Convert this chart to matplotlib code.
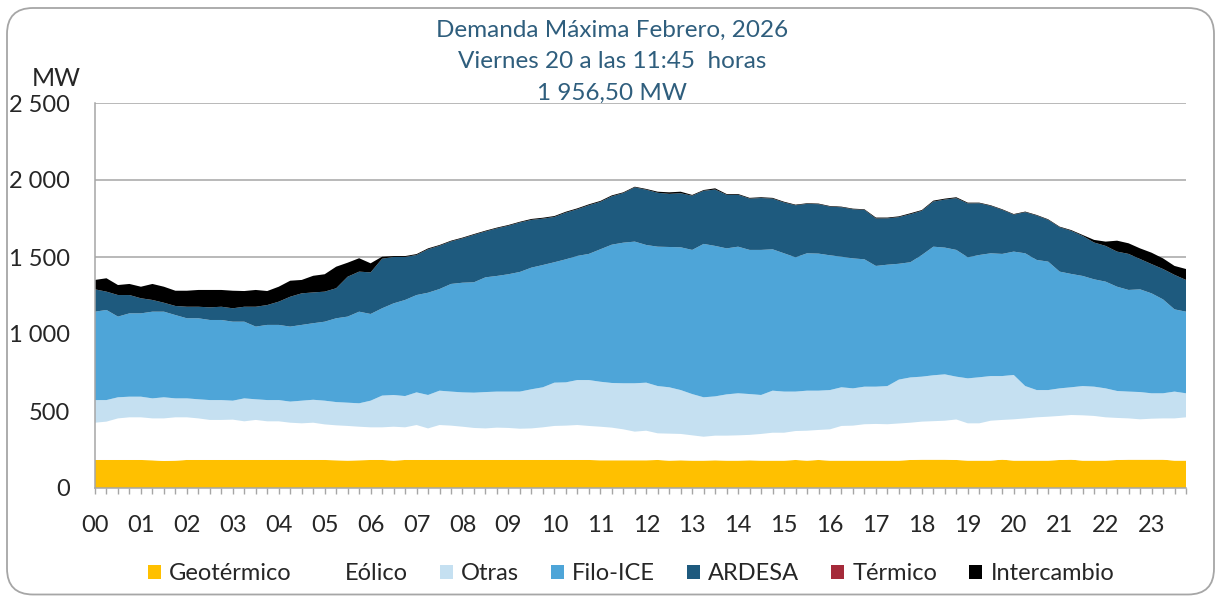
import matplotlib
matplotlib.use("Agg")
import matplotlib.pyplot as plt
from matplotlib.patches import Patch, FancyBboxPatch
from matplotlib.transforms import IdentityTransform
import numpy as np

# cuartos de hora del dia (96 puntos), MW por fuente
geotermico = [182, 182, 182, 182, 182, 180, 176, 178, 182, 182, 182, 182, 182, 182, 182, 182,
              182, 182, 182, 182, 182, 180, 178, 180, 182, 182, 178, 182, 182, 182, 182, 182,
              182, 182, 182, 182, 182, 182, 182, 182, 182, 182, 182, 182, 180, 180, 180, 180,
              180, 182, 178, 180, 178, 178, 180, 178, 178, 180, 178, 178, 178, 182, 178, 182,
              178, 178, 178, 178, 178, 178, 178, 182, 184, 184, 184, 182, 178, 178, 178, 184,
              178, 178, 178, 178, 182, 184, 178, 178, 178, 182, 184, 184, 184, 184, 178, 178]
eolico = [242, 249, 270, 277, 277, 272, 276, 281, 277, 270, 260, 260, 262, 251, 260, 251,
          251, 242, 238, 242, 231, 227, 225, 218, 212, 212, 220, 212, 227, 205, 227, 223,
          216, 208, 205, 210, 208, 203, 205, 212, 221, 223, 227, 221, 218, 212, 201, 186,
          192, 173, 175, 171, 164, 155, 160, 162, 164, 165, 173, 181, 181, 188, 194, 195,
          203, 225, 227, 236, 238, 236, 241, 242, 247, 250, 253, 263, 242, 242, 259, 258,
          268, 274, 281, 285, 286, 290, 294, 290, 281, 273, 268, 262, 266, 268, 274, 281]
otras = [147, 140, 137, 134, 134, 130, 137, 123, 123, 124, 129, 129, 123, 149, 134, 138,
         138, 137, 147, 149, 154, 151, 151, 152, 173, 206, 206, 203, 212, 217, 223, 221,
         223, 229, 236, 234, 236, 241, 254, 260, 281, 281, 292, 298, 292, 290, 299, 314,
         312, 307, 301, 285, 268, 256, 255, 268, 273, 265, 253, 273, 267, 256, 260, 255,
         255, 251, 242, 244, 242, 248, 285, 294, 292, 298, 301, 278, 292, 299, 290, 285,
         288, 210, 177, 173, 179, 180, 190, 190, 188, 175, 174, 177, 165, 163, 174, 156]
filo_ice = [574, 585, 524, 541, 541, 563, 556, 541, 520, 526, 520, 520, 513, 498, 472, 488,
            488, 487, 492, 497, 513, 544, 559, 595, 563, 567, 595, 624, 632, 664, 660, 699,
            712, 717, 745, 751, 762, 777, 790, 794, 782, 799, 806, 819, 860, 898, 913, 920,
            894, 905, 911, 927, 936, 996, 977, 948, 952, 936, 942, 918, 898, 872, 892, 890,
            875, 848, 844, 827, 784, 788, 752, 748, 790, 835, 823, 823, 786, 794, 797, 793,
            801, 862, 845, 834, 758, 736, 715, 697, 693, 677, 660, 667, 649, 610, 534, 530]
ardesa = [145, 119, 140, 119, 98, 76, 58, 59, 75, 75, 82, 86, 87, 97, 129, 129,
          151, 194, 205, 200, 195, 195, 259, 260, 270, 322, 301, 279, 260, 282, 281, 276,
          288, 308, 298, 309, 315, 321, 310, 301, 294, 303, 303, 316, 308, 314, 322, 352,
          359, 350, 345, 351, 352, 345, 366, 348, 337, 333, 337, 329, 330, 338, 321, 321,
          316, 321, 319, 321, 308, 301, 303, 312, 287, 293, 312, 336, 350, 336, 308, 286,
          240, 267, 288, 271, 288, 280, 260, 239, 232, 228, 234, 197, 190, 197, 224, 206]
termico = [0] * 96
intercambio = [61, 87, 65, 72, 75, 104, 104, 99, 104, 109, 113, 109, 114, 102, 109, 91,
               97, 104, 87, 108, 113, 140, 91, 87, 59, 13, 6, 6, 6, 6, 5, 5,
               5, 5, 5, 5, 5, 5, 6, 6, 6, 6, 6, 6, 6, 6, 5, 4.5,
               5, 7, 10, 10, 5, 5, 8, 5, 5, 5, 5, 5, 5, 4, 4, 4,
               4, 4, 4, 4, 6, 5, 5, 6, 5, 6, 6, 6, 5, 4, 4, 4,
               4, 4, 4, 4, 4, 5, 6, 17, 28, 71, 69, 69, 74, 69, 58, 71]

series = ['Geotérmico', 'Eólico', 'Otras', 'Filo-ICE', 'ARDESA', 'Térmico', 'Intercambio']
colores = ['#FFC000', '#FFFFFF', '#C5E0F1', '#4EA5D8', '#1E5A7E', '#A52A3A', '#000000']
horas = ['%02d' % h for h in range(24)]

plt.rcParams['font.family'] = ['Lato', 'DejaVu Sans']
texto = '#262626'

W, H = 1217, 596
fig = plt.figure(figsize=(W / 100, H / 100), dpi=100)

# marco redondeado
marco = FancyBboxPatch((7, 1.5), 1207, 586.5, boxstyle='round,pad=0,rounding_size=26',
                       transform=IdentityTransform(), facecolor='none',
                       edgecolor='#A6A6A6', linewidth=1.3)
fig.patches.append(marco)

ax = fig.add_axes([95 / W, 1 - 488 / H, (1186 - 95) / W, (488 - 103) / H])
x = np.arange(96)
ax.stackplot(x, geotermico, eolico, otras, filo_ice, ardesa, termico, intercambio,
             colors=colores, linewidth=0, zorder=2)

ax.set_xlim(0, 95)
ax.set_ylim(0, 2500)
ax.set_yticks(range(0, 2501, 500))
ax.set_yticklabels(['{:,}'.format(v).replace(',', ' ') for v in range(0, 2501, 500)])
ax.grid(axis='y', color='#A6A6A6', linewidth=1.1, zorder=0)
ax.set_axisbelow(True)

ax.set_xticks(range(0, 96, 4))
ax.set_xticklabels(horas)
ax.set_xticks(range(96), minor=True)

for s in ['top', 'right']:
    ax.spines[s].set_visible(False)
for s in ['left', 'bottom']:
    ax.spines[s].set_color('#A6A6A6')
    ax.spines[s].set_linewidth(1.1)
    ax.spines[s].set_zorder(3)

ax.tick_params(axis='y', length=0, pad=18, labelsize=17, labelcolor=texto)
ax.tick_params(axis='x', which='both', direction='out', length=4.5, color='#A6A6A6',
               width=1, labelsize=17, labelcolor=texto, pad=15)

fig.text(32 / W, 1 - 78 / H, 'MW', fontsize=18, color=texto, ha='left', va='center')

titulo = '#2F5E7D'
fig.text(612 / W, 1 - 30 / H, 'Demanda Máxima Febrero, 2026', fontsize=17.5,
         color=titulo, ha='center', va='center')
fig.text(612 / W, 1 - 61 / H, 'Viernes 20 a las 11:45  horas', fontsize=17.5,
         color=titulo, ha='center', va='center')
fig.text(612 / W, 1 - 93 / H, '1 956,50 MW', fontsize=17.5,
         color=titulo, ha='center', va='center')

handles = [Patch(facecolor=c, edgecolor='none', label=n) for n, c in zip(series, colores)]
fig.legend(handles=handles, loc='center', bbox_to_anchor=(631 / W, 1 - 574 / H),
           ncol=7, frameon=False, fontsize=17, handlelength=0.55, handleheight=0.55,
           handletextpad=0.35, columnspacing=1.35, labelcolor=texto)

fig.savefig('out.png', dpi=100)
